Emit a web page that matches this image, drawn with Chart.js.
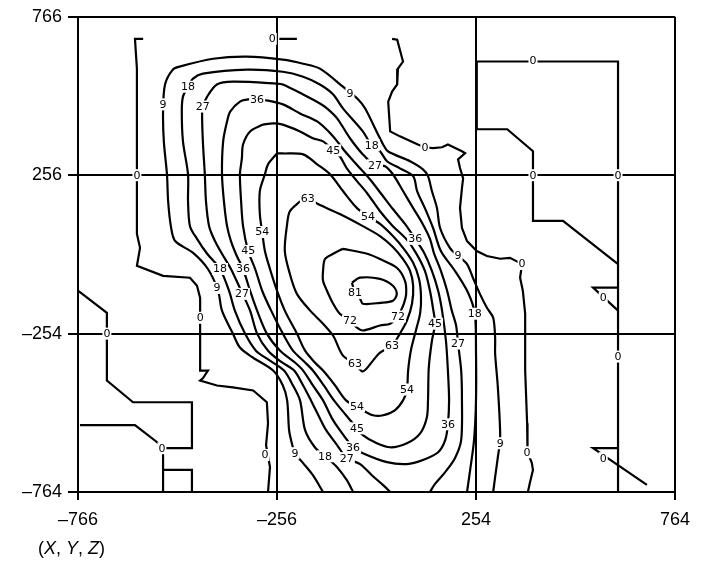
<!DOCTYPE html>
<html>
<head>
<meta charset="utf-8">
<script src="https://cdn.jsdelivr.net/npm/chart.js@4.4.0/dist/chart.umd.min.js"></script>
<style>
  body { margin: 0; background: #fff; }
  canvas { display: block; }
</style>
</head>
<body>
<canvas id="contourChart" width="705" height="561"></canvas>
<script>
// axis ticks
const xTicks = [-766, -256, 254, 764];
const yTicks = [-764, -254, 256, 766];

// level 0 pieces
const z0West = [[-599,695],[-620,695],[-615,599],[-615,256],[-615,67],[-607,22],[-615,-36],[-548,-68],[-479,-74],[-461,-100],[-453,-139],[-453,-373],[-433,-373],[-446,-398],[-453,-405],[-410,-421],[-369,-427],[-317,-437],[-282,-475],[-279,-543],[-284,-613],[-274,-684],[-279,-764]];
const z0Top = [[-250,695],[-205,695]];
const z0East = [[39,695],[52,692],[67,622],[54,599],[52,548],[39,525],[29,493],[34,397],[59,381],[105,355],[123,346],[144,343],[167,346],[182,355],[218,333],[226,327],[208,307],[213,279],[221,246],[218,214],[213,150],[218,86],[231,44],[256,12],[282,-4],[316,-13],[341,-10],[372,-30],[367,-74],[374,-116],[380,-190],[380,-373],[385,-543],[387,-607],[385,-636],[397,-670],[400,-693],[392,-735],[387,-764]];
const z0Box = [[618,-764],[618,622],[256,622],[256,404],[334,404],[400,333],[400,109],[477,109],[618,-30]];
const z0TriA = [[618,-106],[554,-106],[618,-180]];
const z0TriB = [[618,-623],[554,-623],[692,-741]];
const z0SwA = [[-766,-116],[-692,-187],[-692,-405],[-625,-475],[-474,-475],[-474,-623],[-548,-623]];
const z0SwB = [[-761,-549],[-620,-549],[-564,-603],[-548,-623],[-548,-764]];
const z0SwC = [[-548,-693],[-474,-693],[-474,-764]];

// other levels
const c9 = [[-138,-764],[-164,-710],[-189,-671],[-210,-639],[-218,-607],[-225,-565],[-230,-469],[-241,-421],[-266,-373],[-318,-331],[-351,-299],[-369,-254],[-397,-180],[-407,-116],[-433,-46],[-471,6],[-517,44],[-528,92],[-535,172],[-538,259],[-546,365],[-548,461],[-543,548],[-523,596],[-505,606],[-420,631],[-333,638],[-241,628],[-189,615],[-146,599],[-87,541],[-48,500],[-30,471],[3,387],[16,355],[28,333],[85,301],[118,275],[131,253],[141,205],[154,150],[162,86],[187,22],[208,-4],[231,-30],[246,-74],[264,-126],[282,-171],[298,-203],[303,-267],[303,-318],[310,-427],[316,-588],[310,-652],[303,-716],[298,-764]];
const c18 = [[-61,-764],[-77,-726],[-102,-684],[-133,-649],[-159,-620],[-184,-565],[-197,-469],[-215,-421],[-238,-373],[-274,-341],[-310,-309],[-338,-254],[-364,-180],[-379,-116],[-402,-46],[-435,3],[-461,51],[-479,92],[-484,172],[-484,259],[-497,365],[-500,461],[-497,509],[-484,541],[-471,567],[-446,583],[-333,596],[-241,589],[-189,573],[-146,548],[-112,516],[-87,471],[-36,397],[-13,352],[8,333],[26,301],[59,278],[93,253],[103,205],[123,150],[144,86],[164,12],[200,-52],[234,-123],[251,-190],[254,-309],[254,-469],[249,-597],[239,-693],[231,-764]];
const c27 = [[34,-764],[16,-742],[-13,-710],[-43,-674],[-77,-655],[-102,-613],[-130,-565],[-146,-527],[-169,-469],[-189,-421],[-212,-373],[-243,-347],[-279,-309],[-307,-254],[-325,-180],[-348,-116],[-374,-46],[-397,3],[-415,44],[-430,92],[-438,172],[-441,259],[-446,365],[-448,455],[-446,477],[-435,509],[-410,548],[-369,557],[-256,551],[-241,548],[-189,516],[-146,487],[-128,471],[-102,439],[-69,375],[-36,323],[-5,288],[21,285],[41,259],[67,205],[93,150],[116,102],[136,51],[146,6],[164,-52],[180,-116],[192,-180],[203,-228],[208,-286],[216,-373],[218,-469],[216,-597],[200,-655],[175,-700],[149,-738],[136,-764]];
const c36 = [[-307,500],[-279,496],[-241,484],[-197,455],[-153,429],[-112,381],[-82,333],[-48,285],[-18,243],[10,198],[41,147],[72,99],[98,51],[121,6],[141,-52],[157,-116],[167,-180],[177,-277],[182,-373],[185,-469],[182,-546],[175,-597],[157,-636],[118,-661],[77,-674],[26,-668],[-36,-639],[-61,-620],[-95,-565],[-115,-527],[-138,-469],[-164,-421],[-189,-373],[-210,-347],[-248,-309],[-282,-254],[-307,-180],[-325,-116],[-343,-46],[-359,-4],[-374,44],[-384,92],[-392,172],[-397,259],[-394,365],[-384,429],[-376,461],[-351,493],[-330,500],[-307,500]];
const c45 = [[-292,419],[-266,423],[-241,419],[-197,397],[-164,375],[-138,365],[-112,336],[-95,317],[-77,278],[-51,237],[-25,198],[8,140],[41,92],[75,51],[100,6],[123,-52],[136,-116],[144,-174],[149,-222],[141,-277],[133,-363],[131,-469],[128,-524],[111,-575],[77,-607],[34,-620],[-5,-604],[-36,-581],[-51,-559],[-79,-517],[-110,-469],[-136,-421],[-164,-373],[-184,-347],[-215,-309],[-241,-254],[-271,-180],[-294,-116],[-312,-46],[-330,12],[-343,92],[-348,172],[-351,259],[-346,310],[-343,355],[-325,397],[-292,419]];
const c54 = [[-256,326],[-241,326],[-189,323],[-153,291],[-120,259],[-87,205],[-51,150],[-23,124],[8,99],[41,60],[69,19],[93,-26],[108,-78],[113,-132],[111,-187],[100,-244],[87,-309],[80,-373],[77,-434],[67,-469],[46,-501],[16,-517],[-10,-517],[-36,-501],[-51,-488],[-79,-469],[-107,-421],[-138,-373],[-159,-347],[-184,-309],[-205,-254],[-236,-180],[-256,-116],[-274,-46],[-287,12],[-294,73],[-300,131],[-300,205],[-287,259],[-279,291],[-256,326]];
const c63 = [[-197,172],[-223,140],[-230,99],[-236,12],[-223,-62],[-205,-126],[-171,-180],[-138,-222],[-112,-261],[-87,-325],[-56,-350],[-36,-376],[-10,-341],[8,-315],[39,-293],[59,-254],[77,-212],[90,-158],[93,-100],[85,-52],[67,-14],[41,25],[8,60],[-36,92],[-95,131],[-151,163],[-177,182],[-197,172]];
const c72 = [[-87,19],[-25,3],[8,-14],[51,-42],[72,-84],[75,-126],[69,-158],[59,-187],[54,-199],[34,-222],[8,-228],[-36,-244],[-51,-235],[-69,-212],[-95,-190],[-112,-158],[-128,-116],[-138,-84],[-138,-52],[-133,-14],[-112,3],[-87,19]];
const c81 = [[-64,-90],[-43,-74],[8,-78],[41,-100],[51,-126],[41,-148],[8,-155],[-36,-158],[-43,-142],[-56,-123],[-64,-90]];

const zeroLines = [z0West, z0Top, z0East, z0Box, z0TriA, z0TriB, z0SwA, z0SwB, z0SwC];
const levelLines = [c9, c18, c27, c36, c45, c54, c63, c72, c81];

// contour labels: text, x, y
const contourLabels = [
  ['0',-615,256],['0',-453,-203],['0',-287,-645],['0',-268,695],['0',123,346],['0',372,-30],
  ['0',385,-636],['0',400,625],['0',400,256],['0',618,256],['0',618,-328],['0',580,-139],
  ['0',580,-655],['0',-551,-623],['0',-692,-254],
  ['9',-548,484],['9',-410,-107],['9',-69,519],['9',208,-4],['9',-210,-639],['9',316,-607],
  ['18',-484,541],['18',-402,-46],['18',-13,352],['18',251,-190],['18',-133,-649],
  ['27',-446,477],['27',-346,-126],['27',-5,288],['27',208,-286],['27',-77,-655],
  ['36',-307,500],['36',-343,-46],['36',98,51],['36',182,-546],['36',-61,-620],
  ['45',-112,336],['45',-330,12],['45',149,-222],['45',-51,-559],
  ['54',-294,73],['54',-23,124],['54',77,-434],['54',-51,-488],
  ['63',-177,182],['63',39,-293],['63',-56,-350],
  ['72',-69,-212],['72',54,-199],
  ['81',-56,-123]
];

function toPoints(arr) {
  return arr.map(p => ({ x: p[0], y: p[1] }));
}

const datasets = [];
zeroLines.forEach(line => datasets.push({
  data: toPoints(line), showLine: true, borderColor: '#000', borderWidth: 2.2,
  pointRadius: 0, tension: 0, fill: false
}));
levelLines.forEach(line => datasets.push({
  data: toPoints(line), showLine: true, borderColor: '#000', borderWidth: 2.2,
  pointRadius: 0, tension: 0.3, fill: false
}));

function fmt(v) {
  return v < 0 ? '\u2013' + Math.abs(v) : String(v);
}

const labelPlugin = {
  id: 'contourLabels',
  afterDatasetsDraw(chart) {
    const { ctx } = chart;
    const sx = chart.scales.x, sy = chart.scales.y;
    ctx.save();
    ctx.font = '11px "DejaVu Sans"';
    ctx.textAlign = 'center';
    ctx.textBaseline = 'middle';
    contourLabels.forEach(([t, vx, vy]) => {
      const px = sx.getPixelForValue(vx), py = sy.getPixelForValue(vy);
      const w = ctx.measureText(t).width;
      ctx.fillStyle = '#fff';
      ctx.fillRect(px - w / 2 - 1, py - 6, w + 2, 12);
      ctx.fillStyle = '#000';
      ctx.fillText(t, px, py + 0.5);
    });
    ctx.restore();

    // caption (X, Y, Z)
    ctx.save();
    ctx.fillStyle = '#000';
    ctx.textBaseline = 'middle';
    ctx.textAlign = 'left';
    const parts = [['(', false], ['X', true], [', ', false], ['Y', true], [', ', false], ['Z', true], [')', false]];
    let cx = 38;
    parts.forEach(([s, it]) => {
      ctx.font = (it ? 'italic ' : '') + '18px "Liberation Sans"';
      ctx.fillText(s, cx, 549);
      cx += ctx.measureText(s).width;
    });
    ctx.restore();
  }
};

new Chart(document.getElementById('contourChart'), {
  type: 'scatter',
  data: { datasets },
  options: {
    responsive: false,
    animation: false,
    layout: { padding: { left: 0, top: 15, right: 30, bottom: 0 } },
    plugins: { legend: { display: false }, tooltip: { enabled: false } },
    scales: {
      x: {
        type: 'linear', min: -766, max: 764,
        afterBuildTicks: s => { s.ticks = xTicks.map(v => ({ value: v })); },
        afterFit: s => { s.height = 69; },
        grid: { color: '#000', lineWidth: 2, tickLength: 8 },
        border: { display: true, color: '#000', width: 2 },
        ticks: {
          color: '#000', autoSkip: false, maxRotation: 0, padding: 9,
          font: { family: 'Liberation Sans', size: 18 },
          callback: v => fmt(v)
        }
      },
      y: {
        type: 'linear', min: -764, max: 766,
        afterBuildTicks: s => { s.ticks = yTicks.map(v => ({ value: v })); },
        afterFit: s => { s.width = 78; },
        grid: { color: '#000', lineWidth: 2, tickLength: 10 },
        border: { display: true, color: '#000', width: 2 },
        ticks: {
          color: '#000', padding: 6,
          font: { family: 'Liberation Sans', size: 18 },
          callback: v => fmt(v)
        }
      }
    }
  },
  plugins: [labelPlugin]
});
</script>
</body>
</html>
